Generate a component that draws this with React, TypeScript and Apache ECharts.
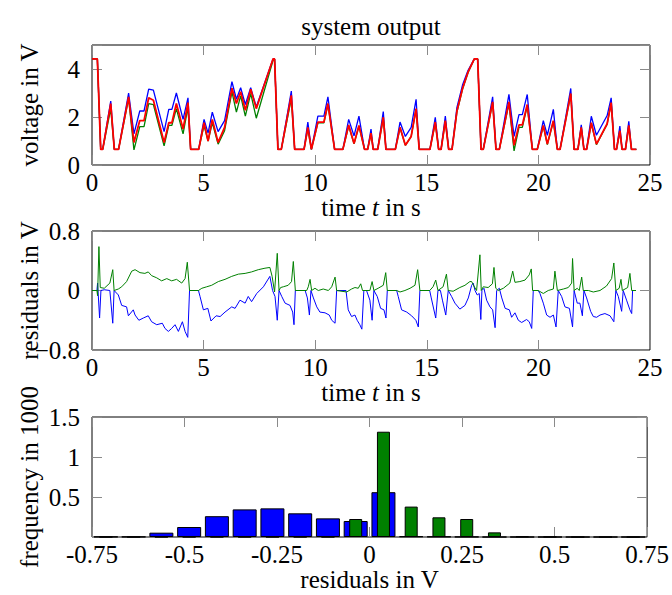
import React, { useEffect, useRef } from "react";
import * as echarts from "echarts";

const FONT = '"Liberation Serif", "Times New Roman", serif';
const FS = 25;

// ---------- top panel: system output ----------
const topT = [0, 0.24, 0.39, 0.48, 0.84, 1.0, 1.19, 1.64, 1.88, 2.14,
  2.33, 2.54, 2.75, 3.23, 3.44, 3.58, 3.78, 4.08, 4.3, 4.42,
  4.78, 5.02, 5.2, 5.39, 5.65, 5.94, 6.27, 6.47, 6.66, 6.87,
  7.11, 7.36, 8.11, 8.18, 8.33, 8.48, 8.93, 9.08, 9.5, 9.67,
  9.83, 10.12, 10.39, 10.57, 10.87, 11.24, 11.5, 11.74, 11.96, 12.21,
  12.35, 12.5, 12.6, 12.8, 13.05, 13.17, 13.59, 13.8, 14.04, 14.3,
  14.52, 14.66, 15.14, 15.38, 15.53, 15.64, 15.83, 15.98, 16.13, 16.35,
  16.6, 16.85, 17.13, 17.28, 17.43, 17.53, 17.95, 18.1, 18.25, 18.68,
  18.91, 19.13, 19.28, 19.5, 19.73, 19.95, 20.22, 20.4, 20.67, 20.85,
  20.97, 21.45, 21.6, 21.77, 21.92, 22.04, 22.16, 22.37, 22.6, 23.08,
  23.26, 23.41, 23.5, 23.65, 23.75, 23.9, 24.05, 24.17, 24.39];

const topBlue = [4.42, 4.42, 0.65, 0.65, 2.66, 0.65, 0.65, 3.0, 1.3, 2.25,
  2.25, 3.16, 3.12, 1.39, 2.32, 2.32, 3.0, 1.9, 2.8, 0.65,
  0.65, 1.9, 1.33, 2.2, 1.39, 1.85, 3.47, 2.74, 3.22, 2.52,
  3.22, 2.42, 4.42, 4.42, 0.65, 0.65, 3.08, 0.65, 0.65, 1.79,
  0.65, 2.04, 2.04, 2.84, 0.65, 0.65, 1.9, 1.21, 2.04, 0.65,
  0.65, 1.5, 0.65, 0.65, 2.23, 0.65, 0.65, 1.79, 1.19, 1.57,
  2.74, 0.65, 0.65, 1.99, 0.65, 0.65, 2.04, 0.65, 0.65, 2.4,
  3.33, 3.95, 4.42, 4.42, 0.65, 0.65, 2.84, 0.65, 0.65, 2.94,
  1.19, 2.1, 2.1, 2.94, 0.65, 0.65, 1.85, 1.24, 2.32, 0.65,
  0.65, 3.19, 0.65, 0.65, 1.67, 0.65, 0.65, 2.03, 1.24, 2.06,
  2.8, 0.65, 0.65, 1.62, 0.65, 0.65, 1.82, 0.65, 0.65];

const topGreen = [4.42, 4.42, 0.65, 0.65, 2.35, 0.65, 0.65, 2.77, 0.63, 1.6,
  1.6, 2.56, 2.52, 0.8, 1.65, 1.65, 2.35, 1.3, 2.4, 0.65,
  0.65, 1.65, 1.0, 1.76, 0.87, 1.43, 3.05, 2.2, 2.88, 2.04,
  2.98, 1.95, 4.35, 4.42, 0.65, 0.65, 2.77, 0.65, 0.65, 1.5,
  0.65, 1.76, 1.76, 2.52, 0.65, 0.65, 1.62, 0.88, 1.62, 0.65,
  0.65, 1.3, 0.65, 0.65, 1.95, 0.65, 0.65, 1.55, 0.82, 1.19,
  2.33, 0.65, 0.65, 1.76, 0.65, 0.65, 1.82, 0.65, 0.65, 2.2,
  3.15, 3.85, 4.42, 4.42, 0.65, 0.65, 2.6, 0.65, 0.65, 2.56,
  0.59, 1.57, 1.57, 2.45, 0.65, 0.65, 1.62, 0.85, 1.82, 0.65,
  0.65, 2.95, 0.65, 0.65, 1.55, 0.65, 0.65, 1.74, 0.85, 1.7,
  2.58, 0.65, 0.65, 1.4, 0.65, 0.65, 1.62, 0.65, 0.65];

const topRed = [4.42, 4.42, 0.65, 0.65, 2.56, 0.65, 0.65, 2.84, 0.94, 1.85,
  1.85, 2.8, 2.7, 0.94, 1.76, 1.76, 2.56, 1.5, 2.6, 0.65,
  0.65, 1.76, 1.0, 1.9, 0.94, 1.57, 3.2, 2.56, 3.05, 2.28,
  3.16, 2.35, 4.42, 4.42, 0.65, 0.65, 2.9, 0.65, 0.65, 1.57,
  0.65, 1.79, 1.79, 2.56, 0.65, 0.65, 1.67, 0.9, 1.65, 0.65,
  0.65, 1.33, 0.65, 0.65, 1.99, 0.65, 0.65, 1.57, 0.82, 1.19,
  2.35, 0.65, 0.65, 1.79, 0.65, 0.65, 1.85, 0.65, 0.65, 2.25,
  3.19, 3.88, 4.42, 4.42, 0.65, 0.65, 2.63, 0.65, 0.65, 2.63,
  0.82, 1.67, 1.67, 2.52, 0.65, 0.65, 1.65, 0.87, 1.85, 0.65,
  0.65, 2.98, 0.65, 0.65, 1.57, 0.65, 0.65, 1.76, 0.87, 1.72,
  2.6, 0.65, 0.65, 1.43, 0.65, 0.65, 1.65, 0.65, 0.65];

// ---------- middle panel: residuals ----------
const resGreenT = [0, 0.22, 0.25, 0.31, 0.37, 0.55, 0.8, 0.93, 0.99, 1.18,
  1.33, 1.55, 1.78, 1.93, 2.15, 2.37, 2.52, 2.67, 2.9, 3.12,
  3.35, 3.57, 3.79, 4.02, 4.17, 4.27, 4.37, 4.77, 4.92, 5.14,
  5.36, 5.66, 5.96, 6.26, 6.56, 6.86, 7.15, 7.45, 7.75, 7.97,
  8.07, 8.18, 8.3, 8.38, 8.45, 8.57, 8.79, 8.94, 9.02, 9.11,
  9.62, 9.69, 9.77, 9.84, 9.99, 10.14, 10.36, 10.59, 10.74, 10.89,
  10.96, 11.41, 11.63, 11.78, 11.93, 12.04, 12.12, 12.45, 12.55, 12.63,
  12.82, 13.05, 13.16, 13.23, 13.65, 13.8, 14.02, 14.25, 14.47, 14.59,
  14.69, 15.13, 15.28, 15.4, 15.5, 15.73, 15.88, 15.96, 16.18, 16.48,
  16.71, 16.93, 17.01, 17.11, 17.23, 17.38, 17.44, 17.53, 17.75, 17.94,
  18.01, 18.09, 18.2, 18.43, 18.72, 18.85, 18.95, 19.17, 19.4, 19.59,
  19.68, 19.74, 19.99, 20.22, 20.44, 20.67, 20.74, 20.85, 21.12, 21.34,
  21.49, 21.53, 21.6, 21.74, 21.83, 21.94, 22.01, 22.24, 22.46, 22.76,
  23.05, 23.28, 23.38, 23.47, 23.62, 23.7, 23.76, 24.0, 24.1, 24.18,
  24.37];

const resGreen = [0, 0, -0.07, 0.59, 0.04, 0.03, 0.1, 0.28, 0, 0.02,
  0.05, 0.12, 0.26, 0.28, 0.24, 0.23, 0.25, 0.2, 0.17, 0.13,
  0.16, 0.13, 0.15, 0.1, 0.16, 0.38, 0, 0, 0.03, 0.05,
  0.07, 0.12, 0.15, 0.19, 0.22, 0.23, 0.25, 0.28, 0.3, 0.31,
  0.19, -0.02, 0.5, 0, 0.04, 0.05, 0.07, 0.12, 0.39, 0,
  0, 0.05, 0.15, 0, 0.03, 0, 0.02, 0, 0.05, 0.18,
  0, -0.02, 0.02, 0.04, 0.03, 0.09, 0, 0, 0.12, 0,
  0.03, 0.07, 0.24, 0, 0, -0.02, 0, 0.03, 0.07, 0.28,
  0, 0, 0.05, 0.14, 0, 0.05, 0.22, 0, -0.01, 0.04,
  0.07, 0.12, 0.12, 0.06, 0, 0.48, 0, 0.05, 0.04, 0.09,
  0.31, 0.03, 0, 0.03, 0.1, 0.26, 0.11, 0.12, 0.14, 0.21,
  0.29, 0, 0, -0.04, 0, 0.02, 0.26, 0, 0.02, 0.04,
  0.1, 0.43, 0, 0.03, 0, 0.18, 0, 0, -0.02, 0,
  0.06, 0.16, 0.37, 0, 0.03, 0.15, 0, 0.04, 0.23, 0,
  0];

const resBlueT = [0, 0.22, 0.25, 0.34, 0.4, 0.55, 0.8, 0.93, 0.99, 1.18,
  1.33, 1.55, 1.63, 1.85, 1.93, 2.1, 2.3, 2.52, 2.67, 2.9,
  3.15, 3.27, 3.42, 3.57, 3.72, 3.87, 4.05, 4.17, 4.29, 4.37,
  4.77, 4.84, 4.99, 5.19, 5.33, 5.56, 5.74, 5.96, 6.26, 6.41,
  6.63, 6.86, 7.0, 7.15, 7.38, 7.68, 7.97, 8.09, 8.2, 8.3,
  8.38, 8.5, 8.65, 8.87, 8.99, 9.05, 9.11, 9.55, 9.65, 9.74,
  9.81, 9.92, 10.07, 10.21, 10.44, 10.63, 10.74, 10.89, 10.96, 11.38,
  11.48, 11.63, 11.78, 11.88, 12.0, 12.09, 12.18, 12.3, 12.45, 12.55,
  12.63, 12.78, 12.93, 13.08, 13.17, 13.23, 13.65, 13.72, 13.87, 14.1,
  14.32, 14.51, 14.62, 14.69, 15.13, 15.2, 15.4, 15.5, 15.61, 15.7,
  15.85, 15.96, 16.11, 16.26, 16.48, 16.71, 16.86, 17.01, 17.08, 17.16,
  17.26, 17.35, 17.42, 17.47, 17.56, 17.68, 17.83, 17.95, 18.06, 18.13,
  18.25, 18.36, 18.51, 18.7, 18.8, 18.95, 19.1, 19.25, 19.47, 19.59,
  19.7, 19.77, 19.99, 20.07, 20.22, 20.37, 20.52, 20.67, 20.79, 20.89,
  21.04, 21.19, 21.39, 21.53, 21.6, 21.74, 21.86, 21.97, 22.04, 22.16,
  22.34, 22.46, 22.61, 22.76, 22.98, 23.21, 23.38, 23.47, 23.58, 23.73,
  23.8, 23.95, 24.1, 24.18, 24.22, 24.37];

const resBlue = [0, 0, 0.1, -0.37, 0, 0.01, 0, -0.44, 0, -0.06,
  -0.2, -0.22, -0.34, -0.26, -0.33, -0.4, -0.37, -0.34, -0.42, -0.46,
  -0.44, -0.51, -0.55, -0.51, -0.46, -0.55, -0.42, -0.55, -0.63, 0,
  0, -0.08, -0.26, -0.24, -0.41, -0.34, -0.35, -0.29, -0.22, -0.24,
  -0.13, -0.17, -0.08, -0.15, -0.04, 0.05, 0.19, 0, -0.08, -0.4,
  0, -0.08, -0.17, -0.2, -0.29, -0.46, 0, 0, -0.1, -0.33,
  0, -0.1, -0.22, -0.29, -0.3, -0.33, -0.4, -0.44, 0, 0,
  -0.26, -0.35, -0.33, -0.4, -0.46, -0.52, 0, 0, -0.13, -0.4,
  0, -0.08, -0.24, -0.26, -0.37, 0, 0, -0.08, -0.26, -0.29,
  -0.34, -0.4, -0.49, 0, 0, -0.1, -0.37, 0, 0, -0.13,
  -0.33, 0, -0.08, -0.17, -0.25, -0.2, -0.1, 0.07, 0.1, 0,
  -0.06, -0.04, -0.39, 0, 0.03, -0.13, -0.22, -0.26, -0.5, 0,
  0.03, -0.1, -0.24, -0.26, -0.36, -0.3, -0.4, -0.43, -0.39, -0.42,
  -0.51, 0, 0, -0.04, -0.17, -0.33, -0.36, -0.33, -0.49, 0,
  -0.08, -0.22, -0.24, -0.49, 0, -0.17, -0.17, -0.34, 0, -0.1,
  -0.28, -0.35, -0.36, -0.33, -0.31, -0.34, -0.42, 0, -0.08, -0.28,
  0, -0.13, -0.26, -0.31, 0, 0];

// ---------- bottom panel: histogram (frequency in 1000) ----------
const histCenters = [-0.7125, -0.6375, -0.5625, -0.4875, -0.4125, -0.3375, -0.2625, -0.1875, -0.1125, -0.0375,
  0.0375, 0.1125, 0.1875, 0.2625, 0.3375, 0.4125, 0.4875, 0.5625, 0.6375, 0.7125];
const histBlue = [0.003, 0.003, 0.054, 0.125, 0.26, 0.345, 0.358, 0.296, 0.233, 0.2,
  0.56, 0.008, 0.005, 0.002, 0, 0, 0, 0, 0, 0];
const histGreen = [0, 0, 0, 0, 0, 0, 0, 0, 0, 0.225,
  1.316, 0.38, 0.246, 0.225, 0.058, 0.006, 0.002, 0, 0, 0];

const timeTicks = { min: 0, max: 25, interval: 5 };
const resXTicks = { min: -0.75, max: 0.75, interval: 0.25 };

const zip = (xs: number[], ys: number[]) => xs.map((x, i) => [x, ys[i]]);

const tick = { show: true, inside: true, length: 10, lineStyle: { color: "#8a8a8a", width: 1 } };
const noLine = { show: false, onZero: false };
const labelStyle = { color: "#000", fontFamily: FONT, fontSize: FS };
const nameStyle = {
  color: "#000", fontFamily: FONT, fontSize: FS,
  rich: { i: { fontFamily: FONT, fontSize: FS, fontStyle: "italic", color: "#000" } },
};

function xAxes(gridIndex: number, scale: any, name: string, nameGap: number, fmt?: (v: number) => string) {
  return [
    {
      type: "value", gridIndex, position: "bottom", ...scale,
      axisLine: noLine, axisTick: tick, splitLine: { show: false },
      axisLabel: {
        ...labelStyle, margin: 5, formatter: fmt, hideOverlap: false,
        alignMinLabel: "center", alignMaxLabel: "center",
      },
      name, nameLocation: "middle", nameGap, nameTextStyle: nameStyle, nameMoveOverlap: false,
    },
    {
      type: "value", gridIndex, position: "top", ...scale,
      axisLine: noLine, axisTick: tick, splitLine: { show: false },
      axisLabel: { show: false },
    },
  ];
}

function yAxes(gridIndex: number, scale: any, name: string, nameGap: number, fmt: (v: number) => string) {
  return [
    {
      type: "value", gridIndex, position: "left", ...scale,
      axisLine: noLine, axisTick: tick, splitLine: { show: false },
      axisLabel: { ...labelStyle, margin: 12, lineHeight: 14, formatter: fmt, hideOverlap: false },
      name, nameLocation: "middle", nameGap, nameRotate: 90, nameTextStyle: nameStyle, nameMoveOverlap: false,
    },
    {
      type: "value", gridIndex, position: "right", ...scale,
      axisLine: noLine, axisTick: tick, splitLine: { show: false },
      axisLabel: { show: false },
    },
  ];
}

const gridBase = { show: true, borderColor: "#000", borderWidth: 1, backgroundColor: "transparent", containLabel: false };

const option: any = {
  animation: false,
  backgroundColor: "#fff",
  textStyle: { fontFamily: FONT },
  title: {
    text: "system output", left: 371, top: 14, textAlign: "center", padding: 0,
    textStyle: { fontFamily: FONT, fontSize: FS, fontWeight: "normal", color: "#000" },
  },
  grid: [
    { ...gridBase, left: 92, top: 45, width: 558, height: 120 },
    { ...gridBase, left: 92, top: 231, width: 558, height: 119 },
    { ...gridBase, left: 92, top: 417, width: 558, height: 120 },
  ],
  xAxis: [
    ...xAxes(0, timeTicks, "time {i|t} in s", 30),
    ...xAxes(1, timeTicks, "time {i|t} in s", 30),
    ...xAxes(2, resXTicks, "residuals in V", 30, (v: number) => String(v)),
  ],
  yAxis: [
    ...yAxes(0, { min: 0, max: 5, interval: 2 }, "voltage in V", 50, (v: number) => (v > 4.5 ? "" : String(v))),
    ...yAxes(1, { min: -0.8, max: 0.8, interval: 0.8 }, "residuals in V", 50,
      (v: number) => (v < 0 ? "\u2212" + Math.abs(v) : String(v))),
    ...yAxes(2, { min: 0, max: 1.5, interval: 0.5 }, "frequency in 1000", 50, (v: number) => (v === 0 ? "" : String(v))),
  ],
  series: [
    { type: "line", xAxisIndex: 0, yAxisIndex: 0, data: zip(topT, topBlue), symbol: "none", lineStyle: { color: "#0000ff", width: 1.3 } },
    { type: "line", xAxisIndex: 0, yAxisIndex: 0, data: zip(topT, topGreen), symbol: "none", lineStyle: { color: "#008000", width: 1.3 } },
    { type: "line", xAxisIndex: 0, yAxisIndex: 0, data: zip(topT, topRed), symbol: "none", lineStyle: { color: "#ff0000", width: 1.8 } },
    { type: "line", xAxisIndex: 2, yAxisIndex: 2, data: zip(resBlueT, resBlue), symbol: "none", lineStyle: { color: "#0000ff", width: 1 } },
    { type: "line", xAxisIndex: 2, yAxisIndex: 2, data: zip(resGreenT, resGreen), symbol: "none", lineStyle: { color: "#008000", width: 1 } },
    {
      type: "bar", xAxisIndex: 4, yAxisIndex: 4, data: zip(histCenters, histBlue), barWidth: 24,
      itemStyle: { color: "#0000ff", borderColor: "#000", borderWidth: 1 },
    },
    {
      type: "bar", xAxisIndex: 5, yAxisIndex: 4, data: zip(histCenters, histGreen), barWidth: 13,
      itemStyle: { color: "#008000", borderColor: "#000", borderWidth: 1 },
    },
  ],
};

export default function App() {
  const ref = useRef<HTMLDivElement>(null);
  useEffect(() => {
    if (!ref.current) return;
    const chart = echarts.init(ref.current, null, { renderer: "svg" });
    chart.setOption(option);
    return () => chart.dispose();
  }, []);
  return (
    <div
      ref={ref}
      style={{ position: "fixed", left: 0, top: 0, width: 672, height: 595, background: "#fff" }}
    />
  );
}
